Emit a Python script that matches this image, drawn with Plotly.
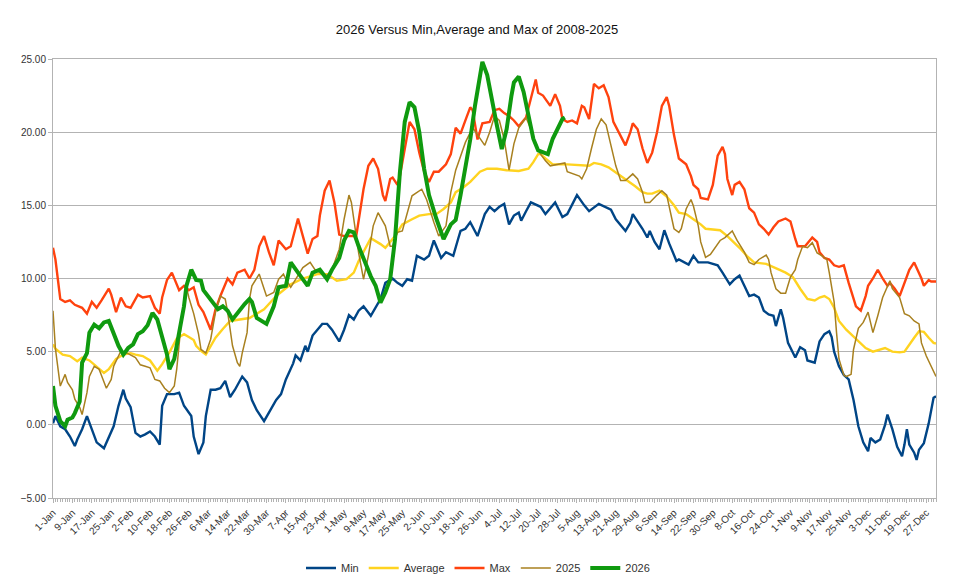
import plotly.graph_objects as go

# day of year (0 = 1-Jan) and temperature
MIN_DAYS = [0, 1, 3, 5, 7, 9, 10, 12, 14, 16, 18, 21, 23, 25, 27, 29, 30, 32, 34, 36, 38, 40, 42, 44, 45, 47, 50, 52,
            54, 57, 58, 60, 62, 63, 65, 67, 69, 71, 73, 75, 78, 80, 82, 84, 87, 89, 92, 94, 96, 99, 100, 102, 104, 105,
            107, 109, 111, 113, 115, 118, 120, 122, 124, 126, 128, 131, 135, 137, 140, 142, 144, 146, 148, 150, 153,
            155, 157, 158, 160, 162, 165, 167, 168, 170, 172, 175, 177, 178, 180, 182, 184, 186, 188, 190, 192, 193,
            195, 197, 201, 203, 207, 210, 212, 216, 219, 221, 225, 230, 232, 236, 238, 239, 243, 245, 246, 248, 250,
            252, 254, 256, 257, 258, 262, 264, 266, 270, 274, 276, 279, 281, 283, 285, 287, 289, 291, 293, 295, 297,
            298, 300, 301, 303, 304, 306, 308, 310, 311, 314, 316, 318, 320, 321, 322, 324, 326, 328, 330, 332, 334,
            336, 337, 339, 341, 343, 344, 346, 348, 350, 351, 352, 353, 355, 356, 357, 359, 361, 363, 364]
MIN_VALS = [0.1, 0.6, -0.1, -0.3, -0.8, -1.45, -1.0, -0.3, 0.6, -0.3, -1.2, -1.6, -0.8, -0.1, 1.3, 2.4, 1.8, 1.2, -0.55,
            -0.8, -0.65, -0.45, -0.8, -1.35, 1.3, 2.1, 2.1, 2.2, 1.3, 0.6, -0.8, -2.0, -1.2, 0.6, 2.4, 2.4, 2.5, 3.0,
            1.9, 2.4, 3.3, 2.9, 1.7, 1.0, 0.25, 0.8, 1.7, 2.1, 3.1, 4.2, 4.75, 4.4, 5.4, 5.0, 6.1, 6.5, 6.9, 6.9, 6.5,
            5.7, 6.5, 7.5, 7.2, 7.8, 8.1, 7.45, 8.6, 9.7, 10.0, 9.7, 9.5, 9.95, 9.85, 11.55, 11.3, 11.55, 12.6, 12.2,
            11.4, 11.8, 11.55, 12.7, 13.25, 13.4, 13.85, 12.9, 13.9, 14.4, 14.9, 14.6, 14.9, 15.1, 13.7, 14.3, 14.5,
            13.95, 14.6, 15.2, 14.9, 14.4, 15.2, 14.2, 14.4, 15.7, 15.0, 14.6, 15.1, 14.7, 14.05, 13.25, 13.8, 14.4,
            13.4, 12.8, 13.25, 12.5, 12.0, 13.3, 12.4, 11.6, 11.2, 11.3, 10.95, 11.55, 11.1, 11.1, 10.9, 10.4, 9.6,
            9.95, 10.2, 9.5, 8.8, 8.9, 8.7, 7.8, 7.55, 7.45, 6.75, 7.9, 7.3, 5.6, 5.3, 4.6, 5.3, 5.1, 4.4, 4.25, 5.7,
            6.2, 6.4, 6.0, 5.0, 4.0, 3.4, 3.1, 1.7, -0.1, -1.2, -1.8, -0.9, -1.2, -1.0, 0.0, 0.7, -0.3, -1.5, -2.15,
            -1.35, -0.3, -1.35, -1.9, -2.4, -1.7, -1.25, 0.1, 1.85, 1.95]

AVG_DAYS = [0, 1, 4, 7, 10, 12, 15, 18, 21, 23, 26, 29, 32, 34, 37, 40, 43, 45, 48, 51, 54, 56, 58, 59, 61, 63, 67, 70,
            73, 81, 87, 92, 98, 103, 109, 113, 117, 121, 124, 126, 128, 131, 135, 137, 141, 144, 148, 151, 155, 158,
            161, 164, 166, 169, 172, 176, 179, 183, 187, 192, 196, 198, 200, 201, 203, 206, 212, 218, 221, 223, 226,
            229, 232, 234, 237, 240, 243, 245, 247, 250, 253, 256, 258, 261, 264, 267, 269, 275, 278, 280, 283, 286,
            289, 294, 297, 300, 302, 305, 308, 311, 314, 316, 318, 320, 322, 324, 327, 330, 332, 335, 338, 340, 343,
            346, 349, 351, 353, 355, 357, 359, 361, 363, 364]
AVG_VALS = [5.5, 5.2, 4.8, 4.7, 4.35, 4.6, 4.4, 3.95, 3.55, 3.8, 4.5, 4.8, 4.9, 4.8, 4.7, 4.4, 3.7, 4.15, 4.95, 5.9,
            6.2, 6.0, 5.8, 5.4, 5.05, 4.8, 5.95, 6.55, 7.1, 7.3, 7.9, 8.8, 9.6, 10.0, 10.3, 10.3, 9.85, 9.95, 10.4,
            11.2, 11.8, 12.75, 12.35, 12.1, 12.9, 13.7, 14.05, 14.3, 14.4, 14.4, 14.75, 15.2, 15.9, 16.2, 16.6, 17.3,
            17.5, 17.5, 17.4, 17.35, 17.5, 17.95, 18.5, 18.5, 18.2, 17.8, 17.8, 17.7, 17.7, 17.9, 17.8, 17.6, 17.25,
            17.0, 16.7, 16.3, 15.9, 15.8, 15.8, 16.0, 15.6, 15.0, 14.5, 14.4, 14.05, 13.7, 13.4, 13.3, 12.9, 12.6,
            12.1, 11.55, 11.1, 11.0, 10.8, 10.55, 10.4, 10.1, 9.3, 8.6, 8.5, 8.7, 8.8, 8.6, 8.0, 7.1, 6.5, 6.05, 5.7,
            5.25, 5.0, 5.1, 5.25, 5.0, 4.95, 5.0, 5.5, 5.95, 6.4, 6.35, 5.95, 5.6, 5.55]

MAX_DAYS = [0, 1, 3, 5, 7, 9, 12, 14, 16, 18, 20, 23, 24, 26, 28, 30, 32, 35, 37, 40, 42, 44, 45, 47, 49, 52, 54, 56,
            58, 60, 62, 65, 67, 69, 72, 74, 76, 79, 81, 83, 85, 87, 89, 91, 93, 96, 98, 101, 103, 105, 107, 109, 110,
            112, 114, 116, 118, 120, 125, 128, 130, 132, 134, 136, 137, 139, 140, 142, 143, 145, 147, 149, 151, 153,
            155, 157, 159, 162, 164, 166, 168, 170, 172, 173, 175, 177, 180, 182, 184, 186, 188, 190, 192, 195, 197,
            199, 200, 202, 205, 207, 209, 210, 212, 214, 216, 218, 219, 221, 223, 225, 227, 229, 231, 234, 236, 238,
            239, 241, 243, 245, 247, 249, 251, 253, 254, 256, 258, 261, 263, 264, 266, 267, 270, 272, 274, 276, 277,
            278, 280, 281, 283, 285, 287, 289, 291, 293, 295, 297, 299, 302, 304, 306, 307, 310, 311, 313, 315, 316,
            318, 320, 322, 324, 326, 328, 331, 333, 335, 336, 338, 340, 342, 344, 345, 347, 349, 351, 353, 355, 357,
            358, 359, 361, 362, 364]
MAX_VALS = [12.1, 11.3, 8.6, 8.4, 8.5, 8.2, 8.0, 7.6, 8.4, 8.0, 8.5, 9.3, 8.9, 7.7, 8.7, 8.1, 8.0, 8.9, 8.7, 8.8, 8.0,
            7.6, 8.7, 9.9, 10.4, 9.2, 9.5, 9.2, 9.4, 8.2, 7.7, 6.5, 7.9, 8.8, 10.0, 9.6, 10.4, 10.6, 10.0, 10.6, 12.2,
            12.9, 11.8, 10.9, 12.6, 12.0, 12.2, 14.1, 12.9, 11.7, 12.7, 12.9, 14.3, 16.0, 16.7, 15.2, 13.0, 12.9,
            12.9, 16.1, 17.7, 18.2, 17.5, 15.7, 15.3, 16.8, 16.9, 16.4, 17.0, 18.9, 20.7, 20.2, 18.6, 17.3, 16.6,
            17.3, 17.3, 17.8, 18.5, 20.3, 19.9, 20.8, 21.7, 21.5, 19.5, 20.6, 20.7, 21.5, 21.6, 21.3, 21.1, 20.8,
            20.4, 21.0, 22.3, 23.6, 22.7, 22.5, 21.8, 22.6, 21.8, 20.9, 20.7, 20.8, 20.6, 21.8, 21.7, 20.9, 23.3,
            23.0, 23.2, 22.4, 20.7, 19.8, 19.1, 20.0, 20.6, 20.2, 18.9, 17.9, 18.6, 20.0, 21.8, 22.4, 21.8, 19.8,
            18.2, 17.8, 17.0, 16.4, 16.1, 15.5, 15.4, 16.4, 18.4, 19.0, 18.5, 16.8, 15.7, 16.4, 16.6, 16.1, 14.8,
            14.5, 13.7, 13.4, 13.0, 13.5, 13.9, 14.1, 13.9, 12.7, 12.2, 12.2, 12.4, 12.8, 12.5, 11.8, 11.4, 11.3,
            10.9, 10.8, 10.9, 9.7, 8.1, 7.8, 8.8, 9.5, 10.0, 10.6, 10.0, 9.5, 9.7, 9.3, 8.8, 9.7, 10.6, 11.1, 10.4,
            10.0, 9.5, 9.9, 9.8, 9.8]

Y2025_DAYS = [0, 1, 3, 4, 5, 6, 8, 9, 11, 12, 14, 15, 17, 19, 21, 22, 24, 25, 28, 30, 34, 36, 38, 40, 42, 44, 46, 48,
              50, 51, 53, 55, 56, 58, 60, 61, 63, 65, 67, 69, 71, 72, 74, 76, 77, 78, 80, 81, 82, 85, 87, 88, 91, 93,
              95, 96, 98, 100, 103, 106, 108, 111, 113, 115, 118, 120, 122, 123, 124, 126, 128, 130, 132, 134, 137,
              139, 140, 142, 144, 146, 148, 152, 154, 157, 159, 162, 164, 166, 168, 170, 173, 175, 177, 178, 180, 182,
              184, 186, 188, 190, 192, 195, 197, 199, 201, 203, 205, 209, 211, 212, 217, 218, 220, 222, 224, 226, 228,
              230, 232, 234, 236, 238, 239, 241, 243, 244, 246, 249, 251, 253, 255, 256, 258, 259, 261, 263, 264, 266,
              267, 269, 271, 273, 275, 277, 280, 282, 285, 287, 289, 291, 294, 295, 296, 298, 300, 302, 304, 306, 307,
              309, 311, 313, 315, 317, 319, 320, 322, 323, 324, 326, 327, 329, 330, 332, 334, 336, 338, 340, 342, 345,
              346, 349, 351, 353, 355, 357, 358, 360, 362, 364]
Y2025_VALS = [7.8, 5.2, 2.65, 3.1, 3.45, 2.9, 2.4, 1.75, 1.2, 0.7, 2.2, 3.3, 4.0, 3.8, 3.0, 2.5, 3.1, 4.0, 5.05, 4.95,
              4.6, 4.1, 4.0, 3.9, 3.1, 3.0, 2.5, 2.2, 2.65, 3.8, 7.2, 9.4, 8.7, 7.6, 6.2, 5.15, 4.9, 5.85, 7.7, 8.8,
              8.6, 7.7, 5.4, 4.25, 4.0, 4.9, 6.3, 8.6, 9.5, 10.3, 9.3, 8.8, 9.05, 9.95, 10.3, 9.95, 9.4, 9.95, 10.75,
              11.1, 10.6, 10.3, 10.2, 10.6, 12.0, 14.05, 15.7, 15.2, 14.0, 11.75, 9.95, 11.55, 13.6, 14.5, 13.6, 12.2,
              12.2, 13.15, 13.25, 14.5, 15.65, 16.1, 15.4, 13.85, 12.9, 13.6, 15.9, 17.4, 18.3, 19.3, 20.3, 19.8, 19.3,
              19.1, 20.0, 21.1, 20.8, 19.5, 17.4, 19.2, 20.3, 21.0, 20.2, 19.1, 18.5, 18.05, 17.7, 17.8, 17.9, 17.3,
              17.0, 16.8, 17.5, 18.9, 20.2, 20.9, 20.5, 19.1, 17.7, 16.7, 16.7, 17.0, 17.15, 16.8, 15.9, 15.2, 15.2,
              15.7, 16.0, 15.7, 14.0, 13.4, 13.15, 13.4, 14.75, 15.4, 14.95, 13.6, 12.5, 11.45, 11.65, 12.1, 12.6,
              12.8, 13.25, 12.6, 11.8, 11.1, 10.95, 11.3, 11.6, 11.3, 10.4, 9.3, 9.0, 9.0, 10.1, 10.6, 11.3, 12.2,
              12.1, 12.45, 11.75, 11.55, 11.3, 10.4, 8.4, 6.3, 4.5, 3.4, 3.3, 3.45, 5.15, 6.6, 7.0, 7.7, 6.3, 7.45,
              8.7, 9.85, 9.3, 8.7, 7.6, 7.45, 7.1, 6.9, 5.6, 4.7, 4.0, 3.3]

Y2026_DAYS = [0, 1, 3, 5, 6, 8, 9, 11, 12, 14, 15, 17, 19, 21, 23, 25, 27, 29, 31, 33, 35, 37, 39, 41, 43, 45, 47, 48,
              50, 52, 54, 55, 57, 59, 61, 62, 65, 67, 68, 70, 72, 74, 76, 79, 81, 82, 84, 86, 88, 91, 93, 96, 98, 101,
              103, 105, 107, 110, 113, 115, 118, 120, 122, 124, 126, 128, 131, 133, 135, 137, 139, 141, 143, 145, 147,
              149, 151, 153, 155, 158, 161, 164, 166, 168, 170, 172, 174, 176, 177, 179, 181, 183, 185, 187, 189, 190,
              192, 194, 196, 198, 200, 202, 204, 206, 208, 210, 211]
Y2026_VALS = [2.65, 1.3, 0.25, -0.1, 0.35, 0.5, 0.8, 1.6, 4.25, 4.9, 6.3, 6.85, 6.6, 7.0, 7.1, 6.3, 5.4, 4.8, 5.25,
              5.5, 6.2, 6.4, 6.8, 7.65, 7.2, 6.0, 4.8, 3.8, 4.5, 6.3, 8.1, 9.5, 10.6, 9.9, 9.85, 9.2, 8.5, 8.1, 7.9,
              8.1, 7.8, 7.2, 7.65, 8.25, 8.6, 8.4, 7.3, 7.1, 6.9, 8.1, 9.4, 9.5, 11.1, 10.4, 9.95, 9.5, 10.4, 10.6,
              9.95, 10.6, 11.4, 12.6, 13.25, 13.15, 12.2, 11.3, 10.15, 9.5, 8.35, 9.05, 9.95, 12.7, 17.25, 20.7, 22.05,
              21.7, 20.0, 17.5, 15.7, 14.1, 12.7, 13.7, 14.0, 15.7, 17.5, 19.5, 21.85, 23.9, 24.8, 23.9, 22.05, 20.45,
              18.85, 20.2, 22.5, 23.4, 23.8, 22.75, 21.15, 19.55, 18.75, 18.6, 18.5, 19.55, 20.25, 20.9, 21.0]

TICK_LABELS = ["1-Jan", "9-Jan", "17-Jan", "25-Jan", "2-Feb", "10-Feb", "18-Feb", "26-Feb", "6-Mar", "14-Mar",
               "22-Mar", "30-Mar", "7-Apr", "15-Apr", "23-Apr", "1-May", "9-May", "17-May", "25-May", "2-Jun",
               "10-Jun", "18-Jun", "26-Jun", "4-Jul", "12-Jul", "20-Jul", "28-Jul", "5-Aug", "13-Aug", "21-Aug",
               "29-Aug", "6-Sep", "14-Sep", "22-Sep", "30-Sep", "8-Oct", "16-Oct", "24-Oct", "1-Nov", "9-Nov",
               "17-Nov", "25-Nov", "3-Dec", "11-Dec", "19-Dec", "27-Dec"]

FONT = "Liberation Sans, Arial, sans-serif"
GRID = "#b3b3b3"
W, H = 956, 579
OFF = 8  # page body margin shifts the figure by 8px

SERIES = [("Min", MIN_DAYS, MIN_VALS, "#004586", 2.4),
          ("Average", AVG_DAYS, AVG_VALS, "#ffd320", 2.4),
          ("Max", MAX_DAYS, MAX_VALS, "#ff420e", 2.4),
          ("2025", Y2025_DAYS, Y2025_VALS, "#a8801f", 1.5),
          ("2026", Y2026_DAYS, Y2026_VALS, "#0f9a0f", 4)]

fig = go.Figure()
for name, d, v, c, w in SERIES:
    fig.add_trace(go.Scatter(x=d, y=v, mode="lines", name=name, line=dict(color=c, width=w)))

fig.update_layout(
    width=W, height=H, paper_bgcolor="white", plot_bgcolor="white",
    font=dict(family=FONT, size=10, color="#333333"),
    title=dict(text="2026 Versus Min,Average and Max of 2008-2025", x=(477 - OFF) / W, xanchor="center",
               y=1 - (29 - OFF) / H, yanchor="middle", font=dict(size=13, color="#111111")),
    margin=dict(l=53 - OFF, r=20 + OFF, t=59 - OFF, b=81 + OFF, autoexpand=False),
    legend=dict(orientation="h", x=(478 - OFF) / W, xanchor="center", xref="container",
                y=(H - (568 - OFF)) / H, yanchor="middle", yref="container",
                font=dict(size=11, color="#333333"), itemwidth=30, tracegroupgap=0),
)
fig.update_xaxes(range=[0, 364], tickmode="array", tickvals=list(range(0, 361, 8)), ticktext=TICK_LABELS,
                 tickangle=-45, tickfont=dict(size=10), showgrid=False, zeroline=False, automargin=False,
                 showline=True, linecolor=GRID, mirror=True, ticks="outside", ticklen=4, tickcolor=GRID,
                 minor=dict(tickmode="linear", tick0=0, dtick=1, ticks="outside", ticklen=3, tickcolor=GRID))
fig.update_yaxes(range=[-5, 25], dtick=5, tickformat=".2f", showgrid=True, gridcolor=GRID, zeroline=False,
                 showline=True, linecolor=GRID, mirror=True, ticks="outside", ticklen=4, tickcolor=GRID,
                 tickfont=dict(size=10), automargin=False)

fig.write_html("out.html")
